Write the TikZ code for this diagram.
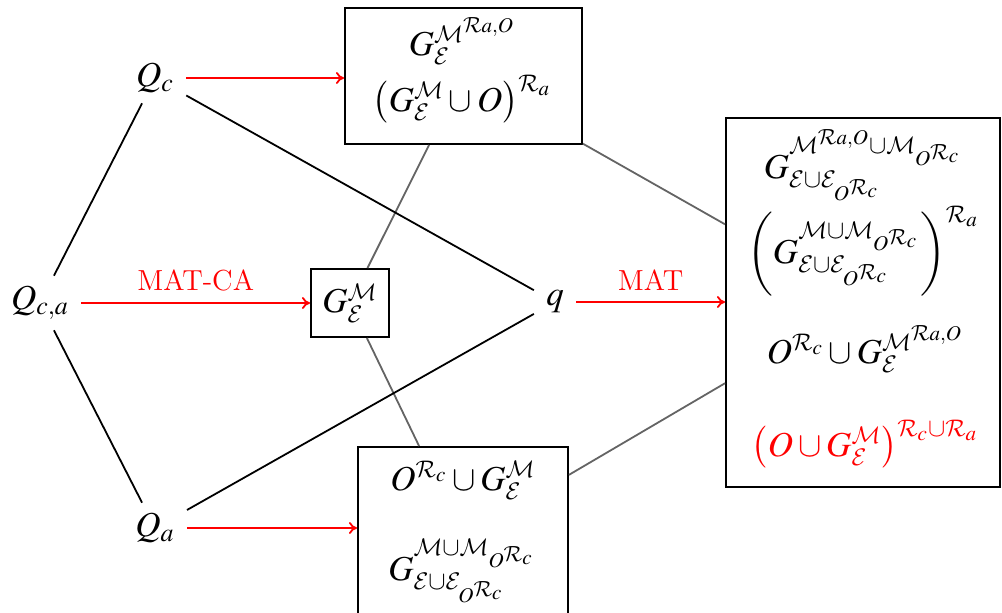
\documentclass[tikz,border=0pt]{standalone}
\usepackage{mathptmx}
\DeclareMathAlphabet{\mathcal}{OMS}{cmsy}{m}{n}
\usetikzlibrary{arrows.meta}
\definecolor{edgegray}{RGB}{100,100,100}
\definecolor{myred}{RGB}{255,0,0}
\begin{document}
\begin{tikzpicture}[x=0.5pt,y=-0.5pt,
  every node/.style={font=\fontsize{17.5}{21}\selectfont},
  box/.style={draw, line width=1pt, inner sep=0pt},
  term/.style={inner xsep=6pt, inner ysep=5pt},
  line/.style={anchor=base, inner sep=0pt},
  conn/.style={line width=0.9pt},
  grayconn/.style={line width=0.9pt, draw=edgegray},
  redarrow/.style={line width=0.9pt, draw=myred, -{To[length=4pt,width=6pt]}},
  redlabel/.style={text=myred, above=2pt, midway, font=\fontsize{14.5}{17}\selectfont}]
\useasboundingbox (0,0) rectangle (1002,612);

% terms
\node[term] (Qc)  at (155,78)  {$Q_c$};
\node[term] (Qca) at (40,303)  {$Q_{c,a}$};
\node[term] (Qa)  at (155,528) {$Q_a$};
\node[term] (q)   at (555,302) {$q$};

% boxes
\node[box, minimum width=118.5pt, minimum height=68pt] (top) at (463.5,76) {};
\node[box, minimum width=39pt, minimum height=34pt] (mid) at (350,303) {$G_{\mathcal{E}}^{\mathcal{M}}$};
\node[box, minimum width=137pt, minimum height=184.5pt] (right) at (863,302.5) {};
\node[box, minimum width=105pt, minimum height=90pt] (bot) at (463,537) {};

% box contents
\node[line] (t1) at (462,55) {$G_{\mathcal{E}}^{\mathcal{M}^{\mathcal{R}a,O}}$};
\node[line] (t2) at (462,111) {$\left(G_{\mathcal{E}}^{\mathcal{M}}\cup O\right)^{\mathcal{R}_a}$};

\node[line] (r1) at (863,178) {$G^{\mathcal{M}^{\mathcal{R}a,O}\cup\mathcal{M}_{O^{\mathcal{R}_c}}}_{\mathcal{E}\cup\mathcal{E}_{O^{\mathcal{R}_c}}}$};
\node[line] (r2) at (863,263) {$\left(\rule[-16pt]{0pt}{40pt}G^{\mathcal{M}\cup\mathcal{M}_{O^{\mathcal{R}_c}}}_{\mathcal{E}\cup\mathcal{E}_{O^{\mathcal{R}_c}}}\right)^{\mathcal{R}_a}$};
\node[line] (r3) at (865,363) {$O^{\mathcal{R}_c}\cup G^{\mathcal{M}^{\mathcal{R}a,O}}_{\mathcal{E}}$};
\node[line, text=myred] (r4) at (865,456) {$\left(O\cup G^{\mathcal{M}}_{\mathcal{E}}\right)^{\mathcal{R}_c\cup\mathcal{R}_a}$};

\node[line] (b1) at (463,490) {$O^{\mathcal{R}_c}\cup G^{\mathcal{M}}_{\mathcal{E}}$};
\node[line] (b2) at (462,580) {$G^{\mathcal{M}\cup\mathcal{M}_{O^{\mathcal{R}_c}}}_{\mathcal{E}\cup\mathcal{E}_{O^{\mathcal{R}_c}}}$};

% gray connectors (center to center)
\draw[grayconn] (top) -- (mid);
\draw[grayconn] (mid) -- (bot);
\draw[grayconn] (top) -- (right);
\draw[grayconn] (bot) -- (right);

% black connectors
\draw[conn] (Qc) -- (Qca);
\draw[conn] (Qca) -- (Qa);
\draw[conn] (Qc) -- (q);
\draw[conn] (Qa) -- (q);

% red arrows
\draw[redarrow] (Qc) -- (Qc -| top.west);
\draw[redarrow] (Qca) -- (Qca -| mid.west) node[redlabel] {MAT-CA};
\draw[redarrow] (q) -- (q -| right.west) node[redlabel] {MAT};
\draw[redarrow] (Qa) -- (Qa -| bot.west);
\end{tikzpicture}
\end{document}
